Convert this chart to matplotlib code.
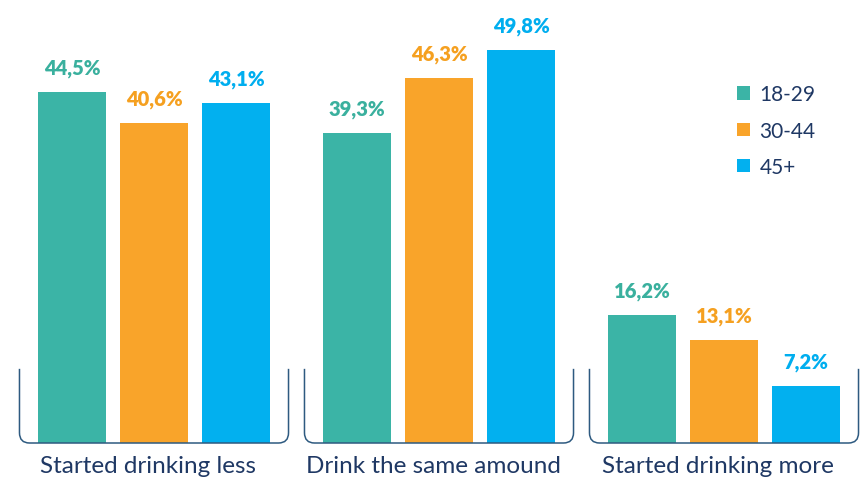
import numpy as np
import matplotlib.pyplot as plt
from matplotlib.path import Path
from matplotlib.patches import PathPatch

categories = ['Started drinking less', 'Drink the same amound', 'Started drinking more']
age_groups = ['18-29', '30-44', '45+']
v_18_29 = [44.5, 39.3, 16.2]
v_30_44 = [40.6, 46.3, 13.1]
v_45 = [43.1, 49.8, 7.2]

bar_colors = ['#3BB4A6', '#F9A42A', '#02B0EF']
label_colors = ['#3AB09E', '#F5A020', '#00AEEF']
navy = '#1F3864'
bracket_color = '#2E5A80'

plt.rcParams['font.family'] = ['Lato', 'DejaVu Sans']

fig = plt.figure(figsize=(8.65, 4.81), dpi=100)
ax = fig.add_axes([0, 37 / 481, 1, 444 / 481])
ax.set_xlim(-154 / 285, (865 - 154) / 285)
ax.set_ylim(0, 444 / 7.89)
ax.axis('off')

x = np.arange(len(categories))
width = 0.239
step = 0.288
series = [v_18_29, v_30_44, v_45]
for i, vals in enumerate(series):
    xs = x + (i - 1) * step
    bars = ax.bar(xs, vals, width, color=bar_colors[i], label=age_groups[i], zorder=2)
    for b, v in zip(bars, vals):
        ax.annotate(f'{v:.1f}%'.replace('.', ','),
                    (b.get_x() + b.get_width() / 2, v),
                    xytext=(0, 15), textcoords='offset pixels',
                    ha='center', va='bottom', fontsize=14.5, fontweight='heavy',
                    color=label_colors[i])

# brackets under each group
half = 0.472
top = 9.4
r_x = 0.035
r_y = 1.3
for c in x:
    l, r = c - half, c + half
    verts = [(l, top), (l, r_y), (l, 0), (l + r_x, 0),
             (r - r_x, 0), (r, 0), (r, r_y), (r, top)]
    codes = [Path.MOVETO, Path.LINETO, Path.CURVE3, Path.CURVE3,
             Path.LINETO, Path.CURVE3, Path.CURVE3, Path.LINETO]
    ax.add_patch(PathPatch(Path(verts, codes), fill=False, edgecolor=bracket_color,
                           lw=1.1, zorder=3, clip_on=False))

for c, name in zip(x, categories):
    ax.text(c - 0.02, -3.7, name, ha='center', va='baseline', fontsize=17.5, color=navy,
            clip_on=False)

leg = ax.legend(loc='upper left', bbox_to_anchor=(727 / 865, 1 - 75 / 444),
                frameon=False, fontsize=15, handlelength=0.6, handleheight=0.6,
                handletextpad=0.45, labelspacing=0.78, borderpad=0)
for t in leg.get_texts():
    t.set_color(navy)

fig.savefig('out.png', dpi=100)
